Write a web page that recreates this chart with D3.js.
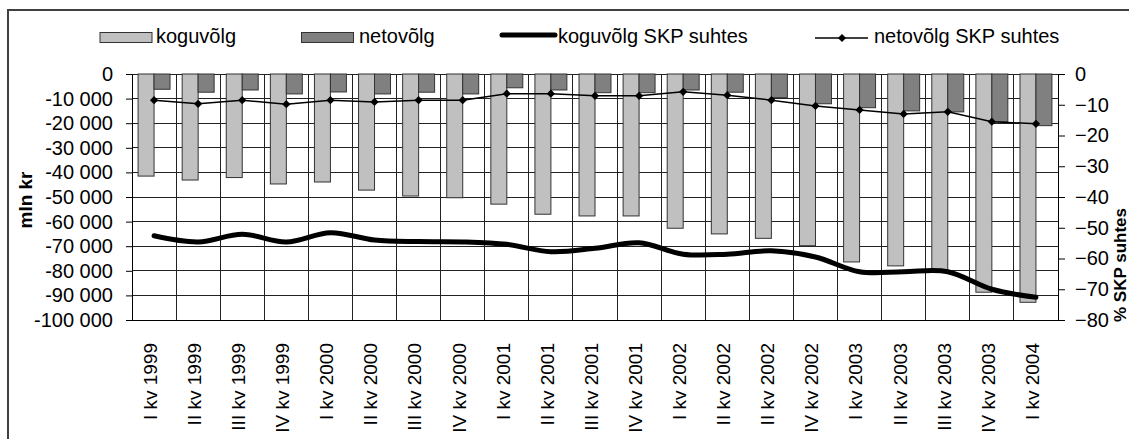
<!DOCTYPE html>
<html>
<head>
<meta charset="utf-8">
<script src="https://cdn.jsdelivr.net/npm/d3@7"></script>
<style>
  body { margin: 0; background: #fff; }
  svg { display: block; font-family: "Liberation Sans", Arial, sans-serif; }
</style>
</head>
<body>
<svg id="chart" width="1129" height="439"></svg>
<script>
// data
const categories = ["I kv 1999", "II kv 1999", "III kv 1999", "IV kv 1999",
  "I kv 2000", "II kv 2000", "III kv 2000", "IV kv 2000",
  "I kv 2001", "II kv 2001", "III kv 2001", "IV kv 2001",
  "I kv 2002", "II kv 2002", "II kv 2002", "IV kv 2002",
  "I kv 2003", "II kv 2003", "III kv 2003", "IV kv 2003", "I kv 2004"];

const koguvolg = [-41500, -43100, -42100, -44700, -43900, -47200, -49600, -50300,
  -52900, -57000, -57700, -57700, -62700, -65000, -66800, -69800,
  -76400, -78000, -80500, -88700, -92800];

const netovolg = [-6200, -7400, -6500, -8100, -7300, -8100, -7400, -8100,
  -5600, -6500, -7600, -7600, -6500, -7400, -9600, -12100,
  -13700, -15000, -15400, -19400, -21000];

const koguvolgSkp = [-52.6, -54.6, -52.1, -54.6, -51.6, -54.0, -54.5, -54.6,
  -55.4, -57.8, -56.7, -54.9, -58.6, -58.6, -57.5, -59.5,
  -64.3, -64.3, -64.3, -70.0, -72.6];

const netovolgSkp = [-8.5, -9.7, -8.5, -9.8, -8.5, -9.1, -8.5, -8.5,
  -6.4, -6.4, -7.1, -7.1, -5.8, -6.9, -8.5, -10.4,
  -11.7, -13.0, -12.3, -15.5, -16.2];

const leftTicks = [0, -10000, -20000, -30000, -40000, -50000, -60000, -70000, -80000, -90000, -100000];
const rightTicks = [0, -10, -20, -30, -40, -50, -60, -70, -80];

const svg = d3.select("#chart");
const plotLeft = 132, plotRight = 1058, plotTop = 74, plotBottom = 320;

const locale = d3.formatLocale({ decimal: ",", thousands: " ", grouping: [3], currency: ["", ""], minus: "-" });
const fmt = locale.format(",d");

const idx = d3.range(categories.length);
const x = d3.scaleBand().domain(idx).range([plotLeft, plotRight]).padding(0);
const xs = d3.scaleBand().domain(["kogu", "neto"]).range([0, x.bandwidth()]).paddingInner(0).paddingOuter(0.38);
const y = d3.scaleLinear().domain([-100000, 0]).range([plotBottom, plotTop]);
const y2 = d3.scaleLinear().domain([-80, 0]).range([plotBottom, plotTop]);

// outer frame
svg.append("rect")
  .attr("x", 8).attr("y", 10).attr("width", 1140).attr("height", 460)
  .attr("fill", "none").attr("stroke", "#404040").attr("stroke-width", 2);

// grid
const grid = svg.append("g").attr("stroke", "#222").attr("stroke-width", 1).attr("shape-rendering", "crispEdges");
grid.selectAll("line.h").data(leftTicks).enter().append("line")
  .attr("x1", plotLeft).attr("x2", plotRight)
  .attr("y1", d => y(d)).attr("y2", d => y(d));
grid.selectAll("line.v").data(idx.slice(1)).enter().append("line")
  .attr("x1", d => x(d)).attr("x2", d => x(d))
  .attr("y1", plotTop).attr("y2", plotBottom);

// bars
svg.append("g").selectAll("rect").data(idx).enter().append("rect")
  .attr("x", i => x(i) + xs("kogu"))
  .attr("y", y(0))
  .attr("width", xs.bandwidth())
  .attr("height", i => y(koguvolg[i]) - y(0))
  .attr("fill", "#c0c0c0").attr("stroke", "#333").attr("stroke-width", 1);

svg.append("g").selectAll("rect").data(idx).enter().append("rect")
  .attr("x", i => x(i) + xs("neto"))
  .attr("y", y(0))
  .attr("width", xs.bandwidth())
  .attr("height", i => y(netovolg[i]) - y(0))
  .attr("fill", "#808080").attr("stroke", "#333").attr("stroke-width", 1);

// axes
const axL = svg.append("g").attr("transform", `translate(${plotLeft},0)`)
  .call(d3.axisLeft(y).tickValues(leftTicks).tickSize(6).tickSizeOuter(0).tickPadding(13).tickFormat(fmt));
const axR = svg.append("g").attr("transform", `translate(${plotRight},0)`)
  .call(d3.axisRight(y2).tickValues(rightTicks).tickSize(7).tickSizeOuter(0).tickPadding(10));
const axB = svg.append("g").attr("transform", `translate(0,${plotBottom})`)
  .call(d3.axisBottom(x).tickSize(0).tickSizeOuter(0).tickFormat(i => categories[i]));

[axL, axR, axB].forEach(a => {
  a.attr("font-family", null).attr("font-size", null);
  a.selectAll("path, line").attr("stroke", "#000");
  a.selectAll("text").attr("fill", "#000").style("font-size", "20px");
});
axB.selectAll("text")
  .attr("transform", "rotate(-90)")
  .attr("x", -23).attr("y", 0).attr("dy", "0.15em")
  .style("text-anchor", "end").style("font-size", "19px");

// lines
const lineKogu = d3.line()
  .x((d, i) => x(i) + x.bandwidth() / 2)
  .y(d => y2(d))
  .curve(d3.curveCatmullRom.alpha(0));
svg.append("path").datum(koguvolgSkp)
  .attr("d", lineKogu).attr("fill", "none")
  .attr("stroke", "#000").attr("stroke-width", 5).attr("stroke-linecap", "round").attr("stroke-linejoin", "round");

const lineNeto = d3.line()
  .x((d, i) => x(i) + x.bandwidth() / 2)
  .y(d => y2(d));
svg.append("path").datum(netovolgSkp)
  .attr("d", lineNeto).attr("fill", "none")
  .attr("stroke", "#000").attr("stroke-width", 1.5);

const diamond = d3.symbol(d3.symbolSquare, 34);
svg.append("g").selectAll("path").data(netovolgSkp).enter().append("path")
  .attr("d", diamond)
  .attr("transform", (d, i) => `translate(${x(i) + x.bandwidth() / 2},${y2(d)}) rotate(45)`)
  .attr("fill", "#000");

// axis titles
svg.append("text")
  .attr("transform", "translate(32,200) rotate(-90)")
  .attr("text-anchor", "middle")
  .style("font-size", "19px").style("font-weight", "bold")
  .text("mln kr");
svg.append("text")
  .attr("transform", "translate(1126,322) rotate(-90)")
  .attr("text-anchor", "start")
  .style("font-size", "17px").style("font-weight", "bold")
  .text("% SKP suhtes");

// legend
const lg = svg.append("g").style("font-size", "20px");
lg.append("rect").attr("x", 100).attr("y", 32.5).attr("width", 52).attr("height", 10)
  .attr("fill", "#c0c0c0").attr("stroke", "#333");
lg.append("text").attr("x", 156).attr("y", 43).text("koguvõlg");
lg.append("rect").attr("x", 301.5).attr("y", 32.5).attr("width", 52).attr("height", 10)
  .attr("fill", "#808080").attr("stroke", "#333");
lg.append("text").attr("x", 359).attr("y", 43).text("netovõlg");
lg.append("line").attr("x1", 502).attr("x2", 555).attr("y1", 35).attr("y2", 35)
  .attr("stroke", "#000").attr("stroke-width", 5).attr("stroke-linecap", "round");
lg.append("text").attr("x", 558).attr("y", 43).text("koguvõlg SKP suhtes");
lg.append("line").attr("x1", 815).attr("x2", 868).attr("y1", 38).attr("y2", 38)
  .attr("stroke", "#000").attr("stroke-width", 1.5);
lg.append("path").attr("d", diamond).attr("transform", "translate(842,38) rotate(45)").attr("fill", "#000");
lg.append("text").attr("x", 874).attr("y", 43).text("netovõlg SKP suhtes");
</script>
</body>
</html>
